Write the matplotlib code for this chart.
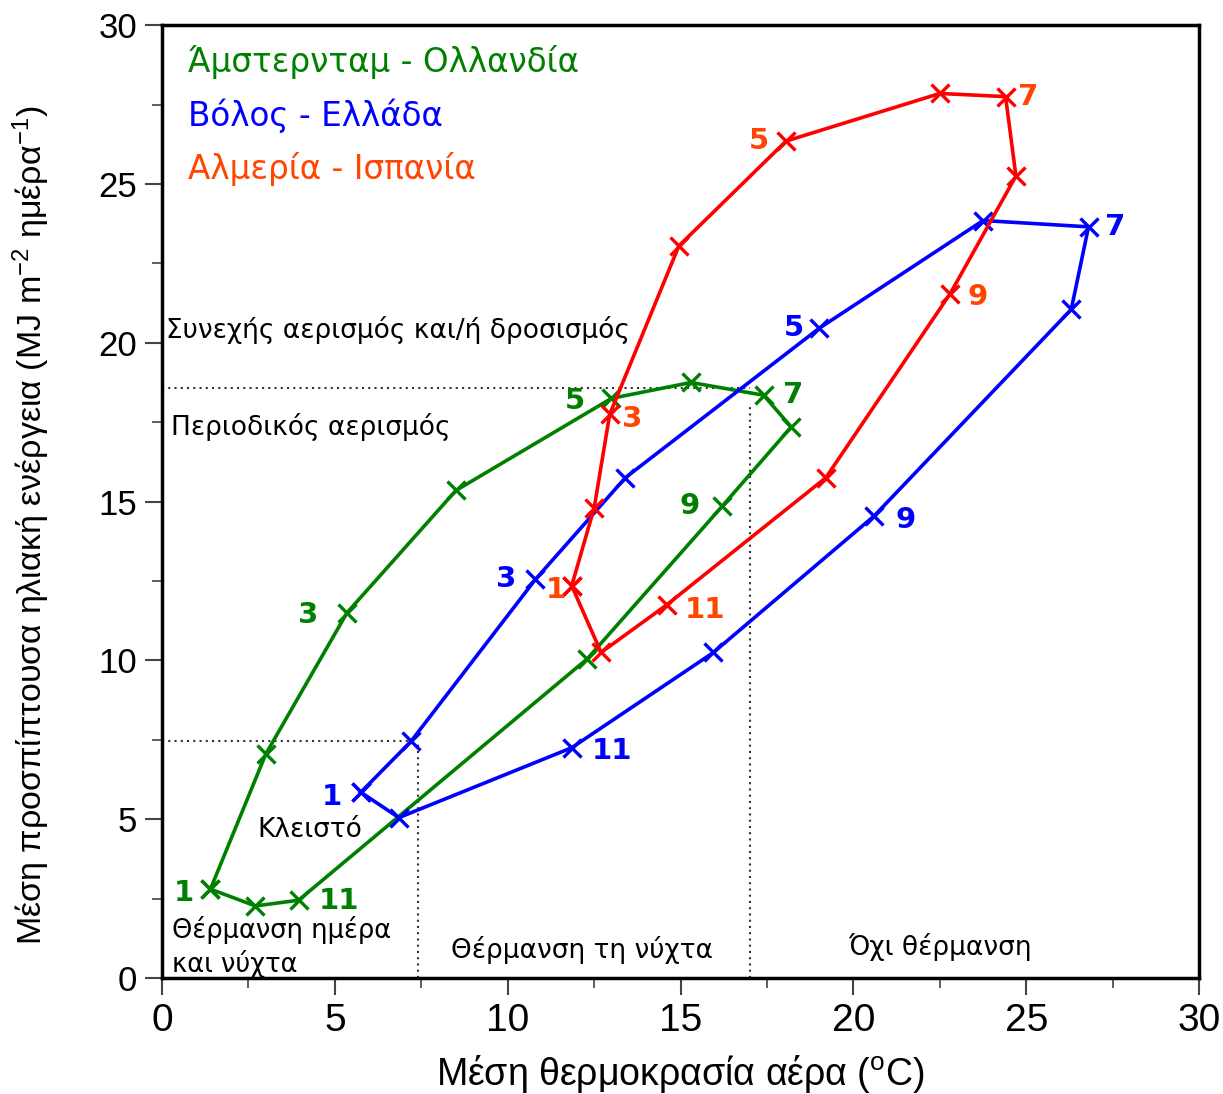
import matplotlib.pyplot as plt
import numpy as np

# Monthly means (months 1..12): air temperature (oC) and solar energy (MJ m-2 day-1)
ams_temp = [1.4, 3.0, 5.35, 8.5, 13.0, 15.3, 17.4, 18.2, 16.2, 12.3, 3.95, 2.7]
ams_rad = [2.8, 7.05, 11.5, 15.35, 18.25, 18.75, 18.35, 17.35, 14.85, 10.05, 2.45, 2.27]

vol_temp = [5.75, 7.2, 10.8, 13.4, 19.0, 23.75, 26.8, 26.3, 20.6, 15.95, 11.85, 6.85]
vol_rad = [5.85, 7.45, 12.55, 15.75, 20.45, 23.85, 23.65, 21.05, 14.55, 10.25, 7.25, 5.05]

alm_temp = [11.85, 12.5, 12.95, 14.95, 18.05, 22.5, 24.4, 24.7, 22.8, 19.2, 14.6, 12.7]
alm_rad = [12.35, 14.8, 17.75, 23.05, 26.35, 27.85, 27.75, 25.25, 21.55, 15.75, 11.75, 10.25]

labelled_months = [1, 3, 5, 7, 9, 11]

# label offsets in pixels for the month numbers (text placement only)
ams_off = [(-27, -4), (-39, -2), (-37, -3), (30, 0), (-32, 0), (40, -1)]
vol_off = [(-29, -5), (-29, 0), (-25, 0), (27, 0), (31, -4), (40, -3)]
alm_off = [(-16, -4), (22, -5), (-27, 0), (23, 0), (27, -3), (38, -5)]

# heating / ventilation thresholds
t_heat_day = 7.4
r_heat_day = 7.45
t_heat_night = 17.0
r_vent = 18.57

series = [
    ('Άμστερνταμ - Ολλανδία', ams_temp, ams_rad, ams_off, '#008000', '#008000'),
    ('Βόλος - Ελλάδα', vol_temp, vol_rad, vol_off, '#0000FF', '#0000FF'),
    ('Αλμερία - Ισπανία', alm_temp, alm_rad, alm_off, '#FF0000', '#FF4500'),
]

plt.rcParams['font.family'] = ['DejaVu Sans']
narrow = ['Liberation Sans Narrow', 'Liberation Sans', 'DejaVu Sans']

fig = plt.figure(figsize=(12.23, 10.94), dpi=100)
ax = fig.add_axes([0.1325, 0.106, 0.848, 0.871])

# dotted region boundaries
dot = dict(color='#333333', linestyle=(0, (1, 2)), linewidth=1.5, zorder=1)
ax.plot([0, t_heat_night], [r_vent, r_vent], **dot)
ax.plot([t_heat_night, t_heat_night], [0, 18.0], **dot)
ax.plot([0, t_heat_day], [r_heat_day, r_heat_day], **dot)
ax.plot([t_heat_day, t_heat_day], [0, r_heat_day], **dot)

for name, temp, rad, offs, col, lcol in series:
    t = np.append(temp, temp[0])
    r = np.append(rad, rad[0])
    ax.plot(t, r, color=col, linewidth=2.6, marker='x', markersize=13,
            markeredgewidth=2.4, zorder=3)
    for m, (dx, dy) in zip(labelled_months, offs):
        ax.annotate(str(m), (temp[m - 1], rad[m - 1]), xytext=(dx, dy),
                    textcoords='offset pixels', ha='center', va='center',
                    fontsize=21, fontweight='bold', color=lcol, zorder=4)

# legend-like titles
for i, (name, temp, rad, offs, col, lcol) in enumerate(series):
    ax.text(0.75, 28.83 - i * 1.68, name, color=lcol, fontsize=23.5,
            ha='left', va='center')

# region texts
ax.text(0.1, 20.4, 'Συνεχής αερισμός και/ή δροσισμός', fontsize=19,
        ha='left', va='center')
ax.text(0.25, 17.35, 'Περιοδικός αερισμός', fontsize=19, ha='left', va='center')
ax.text(2.75, 4.65, 'Κλειστό', fontsize=19, ha='left', va='center')
ax.text(0.3, 0.98, 'Θέρμανση ημέρα\nκαι νύχτα', fontsize=18.5, ha='left',
        va='center', linespacing=1.25)
ax.text(12.15, 0.88, 'Θέρμανση τη νύχτα', fontsize=19, ha='center', va='center')
ax.text(22.5, 0.98, 'Όχι θέρμανση', fontsize=19, ha='center', va='center')

ax.set_xlim(0, 30)
ax.set_ylim(0, 30)
ax.set_xticks(np.arange(0, 31, 5))
ax.set_yticks(np.arange(0, 31, 5))
ax.set_xticks(np.arange(2.5, 30, 5), minor=True)
ax.set_yticks(np.arange(2.5, 30, 5), minor=True)
ax.tick_params(which='major', direction='out', length=12, width=1.5,
               color='#444444', pad=6)
ax.tick_params(which='minor', direction='out', length=7, width=1.2,
               color='#444444')
ax.tick_params(axis='x', labelsize=28, labelfontfamily=narrow)
ax.tick_params(axis='y', labelsize=25, labelfontfamily=['Liberation Sans'])

for s in ax.spines.values():
    s.set_linewidth(2.5)
    s.set_color('black')

ax.set_xlabel(r'Μέση θερμοκρασία αέρα ($\mathregular{^{o}}$C)',
              family=narrow, fontsize=27, labelpad=10)
ax.set_ylabel(r'Μέση προσπίπτουσα ηλιακή ενέργεια (MJ m$\mathregular{^{-2}}$ ημέρα$\mathregular{^{-1}}$)',
              family=narrow, fontsize=24.5)
ax.yaxis.set_label_coords(-0.106, 0.475)

fig.savefig('out.png', dpi=100)
